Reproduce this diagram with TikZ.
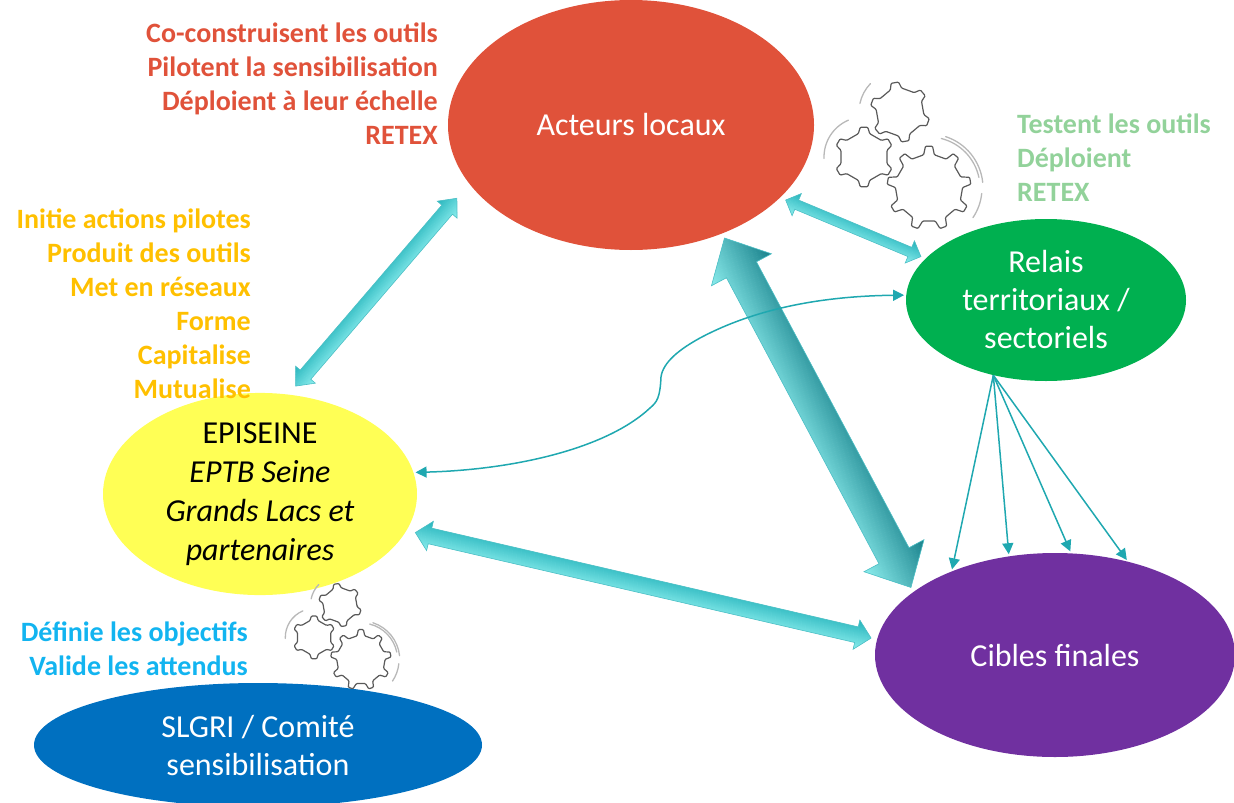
\documentclass[tikz,border=0pt]{standalone}
\usepackage{fontspec}
\setmainfont{Carlito}
\usetikzlibrary{shapes.geometric,arrows.meta,calc}

\definecolor{acteursred}{HTML}{E0523A}
\definecolor{relaisgreen}{HTML}{00B050}
\definecolor{relaistext}{HTML}{92D29A}
\definecolor{episeineyellow}{HTML}{FFFF55}
\definecolor{episeinetext}{HTML}{FFC000}
\definecolor{slgriblue}{HTML}{0070C0}
\definecolor{slgritext}{HTML}{12B4F0}
\definecolor{ciblespurple}{HTML}{7030A0}
\definecolor{tealthin}{HTML}{1FA8B0}
\definecolor{tealedge}{HTML}{4FC0C6}
\definecolor{teallight}{HTML}{8CEEEE}
\definecolor{tealmid}{HTML}{25B4BC}
\definecolor{tealdark}{HTML}{1A828C}

\tikzset{
  blob/.style={ellipse, inner sep=0pt, text=white, align=center,
    font=\fontsize{32}{38}\selectfont},
  rolesleft/.style={anchor=east, align=right, inner sep=0pt,
    font=\bfseries\fontsize{28}{34}\selectfont},
  rolesright/.style={anchor=west, align=left, inner sep=0pt,
    font=\bfseries\fontsize{28}{34}\selectfont},
  thinarrow/.style={tealthin, line width=1.5pt,
    -{Triangle[length=11pt,width=11pt]}, shorten >=2pt},
  gearline/.style={draw=black!65, line width=1.2pt, rounded corners=1pt},
  gearspin/.style={draw=black!28, line width=1.3pt, line cap=round}
}

% from, to, half shaft, half head, head length, colours across the arrow
\newcommand{\blockarrow}[7]{
  \path[save path=\arrowoutline] (#1)
    -- ($(#1)!#5pt!(#2)!#4pt!90:(#2)$)
    -- ($(#1)!#5pt!(#2)!#3pt!90:(#2)$)
    -- ($(#2)!#5pt!(#1)!#3pt!-90:(#1)$)
    -- ($(#2)!#5pt!(#1)!#4pt!-90:(#1)$)
    -- (#2)
    -- ($(#2)!#5pt!(#1)!#4pt!90:(#1)$)
    -- ($(#2)!#5pt!(#1)!#3pt!90:(#1)$)
    -- ($(#1)!#5pt!(#2)!#3pt!-90:(#2)$)
    -- ($(#1)!#5pt!(#2)!#4pt!-90:(#2)$)
    -- cycle;
  \begin{scope}
    \clip[use path=\arrowoutline];
    \foreach \k [evaluate=\k as \mix using {50+50*\k/#4}] in {-#4,...,#4}
      \draw[#7!\mix!#6, line width=1.5pt]
        ($(#1)!\k pt!90:(#2)$) -- ($(#2)!\k pt!-90:(#1)$);
  \end{scope}
  \draw[tealedge, line width=.6pt, use path=\arrowoutline];
}

% centre x, centre y, teeth, outer radius, angle of first tooth
\newcommand{\gearwheel}[5]{
  \begin{scope}[shift={(#1,#2)}]
    \draw[gearline] (#5-180/#3*.46:#4*.8)
      \foreach \k [evaluate=\k as \a using {#5+(\k-1)*360/#3}] in {1,...,#3} {
        -- (\a-180/#3*.46:#4*.8) -- (\a-180/#3*.24:#4)
        -- (\a+180/#3*.24:#4) -- (\a+180/#3*.46:#4*.8)
      } -- cycle;
  \end{scope}
}

\newcommand{\gearcluster}{
  \gearwheel{0}{0}{6}{30}{20}
  \gearwheel{-36}{45}{6}{30}{30}
  \gearwheel{29}{76}{9}{42}{-90}
  \draw[gearspin] (224:41) arc[start angle=224, end angle=192, radius=41];
  \draw[gearspin] ($(-36,45)+(247:40)$) arc[start angle=247, end angle=178, radius=40];
  \draw[gearspin] ($(29,76)+(-76:51)$) arc[start angle=-76, end angle=-12, radius=51];
  \draw[gearspin] ($(29,76)+(-72:54)$) arc[start angle=-72, end angle=-6, radius=54];
  \draw[gearspin] ($(29,76)+(6:53)$) arc[start angle=6, end angle=34, radius=53];
}

\begin{document}
\begin{tikzpicture}[x=1pt,y=-1pt]
  \useasboundingbox (0,0) rectangle (1234,803);
  \begin{scope}
  \clip (0,0) rectangle (1234,803);
  \node[blob, fill=acteursred, minimum width=366pt, minimum height=250pt] (acteurs) at (631,125) {Acteurs locaux};
  \node[blob, fill=relaisgreen, minimum width=280pt, minimum height=162pt] (relais) at (1046,300) {Relais\\territoriaux /\\sectoriels};
  \node[blob, fill=episeineyellow, text=black, minimum width=314pt, minimum height=187pt,
    font=\fontsize{32}{39}\selectfont] (episeine) at (260,494) {EPISEINE\\\textit{EPTB Seine}\\\textit{Grands Lacs et}\\\textit{partenaires}};
  \node[blob, fill=slgriblue, minimum width=448pt, minimum height=124pt] (slgri) at (258,745) {SLGRI / Comité\\sensibilisation};
  \node[blob, fill=ciblespurple, minimum width=360pt, minimum height=204pt] (cibles) at (1055,655) {Cibles finales};
  \end{scope}

  \node[rolesleft, text=acteursred] (rolesacteurs) at (438,84)
  {Co-construisent les outils\\Pilotent la sensibilisation\\Déploient à leur échelle\\RETEX};
  \node[rolesleft, text=episeinetext] (rolesepiseine) at (251,304)
  {Initie actions pilotes\\Produit des outils\\Met en réseaux\\Forme\\Capitalise\\Mutualise};
  \node[rolesright, text=relaistext] (rolesrelais) at (1017,158)
  {Testent les outils\\Déploient\\RETEX};
  \node[rolesleft, text=slgritext] (rolesslgri) at (248,649)
  {Définie les objectifs\\Valide les attendus};

  % block arrows
  \coordinate (tipaa) at ($(acteurs.200)!19pt!(episeine.74)$);
  \coordinate (tipab) at ($(episeine.74)!11pt!(acteurs.200)$);
  \blockarrow{tipaa}{tipab}{7}{13}{15}{tealmid}{teallight}

  \coordinate (tipba) at ($(acteurs.-26)!6pt!(relais.161)$);
  \coordinate (tipbb) at ($(relais.161)!5pt!(acteurs.-26)$);
  \blockarrow{tipba}{tipbb}{5}{12}{12}{teallight}{tealmid}

  \coordinate (tipca) at ($(acteurs.-50)!5pt!(cibles.156)$);
  \coordinate (tipcb) at ($(cibles.156)!5pt!(acteurs.-50)$);
  \blockarrow{tipca}{tipcb}{17}{34}{36}{teallight}{tealdark}

  \coordinate (tipda) at ($(episeine.-14)!9pt!(cibles.175)$);
  \coordinate (tipdb) at ($(cibles.175)!6pt!(episeine.-14)$);
  \blockarrow{tipda}{tipdb}{8}{15}{15}{teallight}{tealmid}

  % thin arrows
  \draw[thinarrow, {Triangle[length=11pt,width=11pt]}-{Triangle[length=11pt,width=11pt]}, shorten <=2pt]
    (relais.178) .. controls (830,296) and (760,306) .. (700,338)
    .. controls (680,349) and (663,362) .. (661,377)
    .. controls (660,398) and (657,402) .. (650,408)
    .. controls (605,450) and (510,470) .. (episeine.8);

  \foreach \target in {141,115,81,52}
    \draw[thinarrow] (relais.-125) -- (cibles.\target);

  \begin{scope}[shift={(900,112)}]
    \gearcluster
  \end{scope}
  \begin{scope}[shift={(340,605)}, scale=.72]
    \gearcluster
  \end{scope}
\end{tikzpicture}
\end{document}
